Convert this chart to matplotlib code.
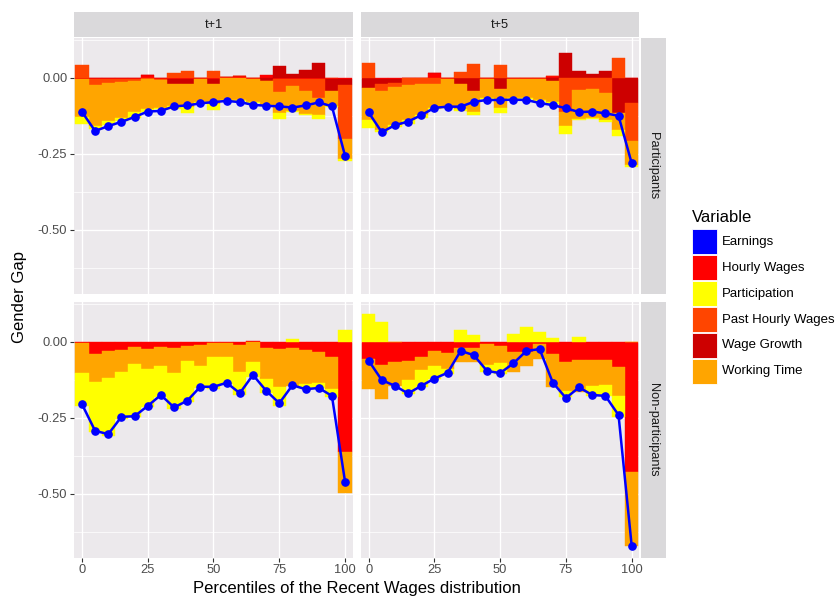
import numpy as np
import matplotlib
matplotlib.use("Agg")
import matplotlib.pyplot as plt
from matplotlib.patches import Rectangle

plt.rcParams['font.family'] = ['Liberation Sans', 'DejaVu Sans']

# ---------------------------------------------------------------------------
# Data
# ---------------------------------------------------------------------------
percentiles = [0, 5, 10, 15, 20, 25, 30, 35, 40, 45, 50,
               55, 60, 65, 70, 75, 80, 85, 90, 95, 100]

variables = ["Earnings", "Hourly Wages", "Participation",
             "Past Hourly Wages", "Wage Growth", "Working Time"]
var_colors = ["#0000FF", "#FF0000", "#FFFF00", "#FF4500", "#CD0000", "#FFA500"]

col_labels = ["t+1", "t+5"]
row_labels = ["Participants", "Non-participants"]

# participants, t+1
earn_p1 = [-0.112, -0.175, -0.159, -0.145, -0.129, -0.111, -0.109, -0.094, -0.091, -0.084, -0.080,
           -0.076, -0.080, -0.089, -0.092, -0.094, -0.098, -0.091, -0.081, -0.094, -0.257]
hw_p1 = [-0.004, -0.004, -0.004, -0.004, -0.004, 0.009, -0.003, -0.004, -0.004, -0.003, -0.004,
         0.004, 0.005, -0.003, 0.008, -0.003, -0.003, -0.003, -0.003, -0.003, -0.003]
wg_p1 = [0.0, 0.0, 0.0, 0.0, 0.0, 0.0, 0.0, -0.016, -0.017, 0.0, -0.017,
         0.0, 0.0, 0.0, -0.009, 0.039, 0.014, 0.027, 0.048, -0.040, -0.022]
phw_p1 = [0.043, -0.021, -0.013, -0.010, -0.005, -0.003, -0.003, 0.016, 0.021, 0.0, 0.023,
          0.0, 0.0, 0.0, -0.003, -0.043, -0.023, -0.040, -0.064, 0.0, -0.178]
wt_p1 = [-0.125, -0.135, -0.126, -0.118, -0.104, -0.099, -0.093, -0.072, -0.075, -0.077, -0.066,
         -0.073, -0.073, -0.078, -0.077, -0.069, -0.082, -0.075, -0.055, -0.050, -0.064]
part_p1 = [-0.023, -0.008, -0.011, -0.011, -0.019, -0.011, -0.005, -0.011, -0.019, -0.003, -0.020,
           -0.002, -0.002, -0.002, -0.002, -0.021, -0.005, -0.005, -0.014, -0.004, -0.006]

# participants, t+5
earn_p5 = [-0.114, -0.179, -0.156, -0.144, -0.123, -0.099, -0.095, -0.095, -0.079, -0.073, -0.073,
           -0.072, -0.073, -0.083, -0.090, -0.100, -0.113, -0.111, -0.117, -0.125, -0.281]
hw_p5 = [-0.002, -0.003, -0.003, 0.0, -0.002, 0.015, -0.005, -0.002, -0.002, -0.003, -0.002,
         -0.003, -0.003, -0.003, 0.006, -0.002, -0.002, -0.002, -0.002, -0.002, -0.002]
wg_p5 = [-0.031, -0.018, -0.015, 0.0, 0.0, 0.0, 0.0, -0.020, -0.043, 0.0, -0.036,
         0.0, 0.0, 0.0, -0.010, 0.083, 0.023, 0.013, 0.021, -0.114, -0.080]
phw_p5 = [0.048, -0.023, -0.013, -0.024, -0.018, -0.020, 0.0, 0.020, 0.045, 0.0, 0.041,
          0.0, 0.0, 0.0, 0.0, -0.111, -0.039, -0.034, -0.047, 0.066, -0.127]
wt_p5 = [-0.105, -0.128, -0.124, -0.115, -0.104, -0.080, -0.090, -0.080, -0.068, -0.064, -0.060,
         -0.064, -0.064, -0.069, -0.071, -0.046, -0.093, -0.095, -0.091, -0.057, -0.079]
part_p5 = [-0.026, -0.008, -0.008, -0.013, -0.008, -0.003, -0.004, -0.008, -0.011, -0.004, -0.018,
           -0.004, -0.003, -0.004, -0.004, -0.025, -0.004, -0.004, -0.004, -0.020, -0.006]

# non-participants, t+1 (no past wages / wage growth)
earn_n1 = [-0.205, -0.293, -0.304, -0.247, -0.245, -0.211, -0.175, -0.216, -0.194, -0.148, -0.148,
           -0.135, -0.169, -0.109, -0.161, -0.202, -0.143, -0.156, -0.152, -0.178, -0.461]
hw_n1 = [-0.005, -0.040, -0.030, -0.027, -0.016, -0.024, -0.016, -0.021, -0.013, -0.010, -0.004,
         -0.005, -0.010, 0.003, -0.019, -0.024, -0.022, -0.027, -0.035, -0.049, -0.362]
wt_n1 = [-0.099, -0.093, -0.088, -0.073, -0.057, -0.064, -0.063, -0.082, -0.049, -0.069, -0.047,
         -0.046, -0.089, -0.065, -0.104, -0.124, -0.123, -0.112, -0.102, -0.106, -0.137]
part_n1 = [-0.106, -0.164, -0.192, -0.154, -0.175, -0.128, -0.102, -0.118, -0.137, -0.073, -0.104,
           -0.088, -0.076, -0.050, -0.044, -0.063, 0.008, -0.013, -0.015, -0.027, 0.038]

# non-participants, t+5
earn_n5 = [-0.062, -0.126, -0.145, -0.170, -0.145, -0.121, -0.102, -0.030, -0.044, -0.096, -0.103,
           -0.071, -0.030, -0.024, -0.134, -0.185, -0.150, -0.175, -0.178, -0.241, -0.671]
hw_n5 = [-0.057, -0.076, -0.066, -0.063, -0.049, -0.030, -0.038, -0.019, -0.019, -0.008, -0.013,
         -0.035, -0.035, -0.008, -0.041, -0.065, -0.060, -0.060, -0.060, -0.084, -0.430]
wt_n5 = [-0.099, -0.113, -0.079, -0.064, -0.044, -0.049, -0.052, -0.049, -0.049, -0.068, -0.058,
         -0.063, -0.044, -0.049, -0.107, -0.096, -0.106, -0.084, -0.081, -0.096, -0.241]
part_n5 = [0.093, 0.064, 0.0, -0.046, -0.057, -0.044, -0.016, 0.038, 0.022, -0.025, -0.035,
           0.027, 0.049, 0.031, 0.012, -0.022, 0.016, -0.033, -0.039, -0.066, 0.0]

# panels: (row, col) -> earnings line and stacked components (closest to zero first)
panels = {
    (0, 0): (earn_p1, [("Hourly Wages", hw_p1), ("Wage Growth", wg_p1),
                       ("Past Hourly Wages", phw_p1), ("Working Time", wt_p1),
                       ("Participation", part_p1)]),
    (0, 1): (earn_p5, [("Hourly Wages", hw_p5), ("Wage Growth", wg_p5),
                       ("Past Hourly Wages", phw_p5), ("Working Time", wt_p5),
                       ("Participation", part_p5)]),
    (1, 0): (earn_n1, [("Hourly Wages", hw_n1), ("Working Time", wt_n1),
                       ("Participation", part_n1)]),
    (1, 1): (earn_n5, [("Hourly Wages", hw_n5), ("Working Time", wt_n5),
                       ("Participation", part_n5)]),
}

# ---------------------------------------------------------------------------
# Layout (pixels)
# ---------------------------------------------------------------------------
W, H = 836, 598
panel_bg = "#ECE9EC"
strip_bg = "#DAD9DB"
colors = dict(zip(variables, var_colors))

col_x = [(74.3, 352.7), (361.0, 639.3)]
row_y = [(38.0, 293.5), (302.0, 557.5)]

fig = plt.figure(figsize=(W / 100, H / 100), dpi=100)


def px_axes(x0, y0, x1, y1):
    return fig.add_axes([x0 / W, 1 - y1 / H, (x1 - x0) / W, (y1 - y0) / H])


x = np.array(percentiles)
for (r, c), (earn, comps) in panels.items():
    ax = px_axes(col_x[c][0], row_y[r][0], col_x[c][1], row_y[r][1])
    ax.set_facecolor(panel_bg)
    pos = np.zeros(len(x))
    neg = np.zeros(len(x))
    for name, vals in comps:
        v = np.array(vals)
        base = np.where(v >= 0, pos, neg)
        ax.bar(x, v, width=5, bottom=base, color=colors[name],
               edgecolor=colors[name], linewidth=0.3, zorder=2)
        pos += np.clip(v, 0, None)
        neg += np.clip(v, None, 0)
    ax.plot(x, earn, color=colors["Earnings"], lw=1.8, marker="o", ms=5.2, zorder=3)

    ax.set_xlim(-2.9, 102.9)
    ax.set_ylim(-0.710, 0.131)
    ax.set_xticks([0, 25, 50, 75, 100])
    ax.set_yticks([-0.5, -0.25, 0.0])
    ax.set_yticks([-0.625, -0.375, -0.125, 0.125], minor=True)
    ax.set_axisbelow(True)
    ax.grid(which="major", color="white", lw=0.95)
    ax.grid(which="minor", axis="y", color="white", lw=0.5)
    for s in ax.spines.values():
        s.set_visible(False)
    ax.tick_params(which="minor", length=0)
    ax.tick_params(which="major", length=3, width=0.8, color="#333333",
                   labelcolor="#4D4D4D", labelsize=9.3, pad=2)
    if r == 0:
        ax.tick_params(axis="x", length=0, labelbottom=False)
    if c == 1:
        ax.tick_params(axis="y", length=0, labelleft=False)
    else:
        ax.set_yticklabels(["-0.50", "-0.25", "0.00"])

    # strips
    if r == 0:
        sax = px_axes(col_x[c][0], 12.0, col_x[c][1], 37.2)
        sax.set_facecolor(strip_bg)
        sax.set_xticks([]); sax.set_yticks([])
        for s in sax.spines.values():
            s.set_visible(False)
        sax.text(0.5, 0.5, col_labels[c], ha="center", va="center",
                 fontsize=9.3, color="#1A1A1A", transform=sax.transAxes)
    if c == 1:
        sax = px_axes(640.7, row_y[r][0], 666.0, row_y[r][1])
        sax.set_facecolor(strip_bg)
        sax.set_xticks([]); sax.set_yticks([])
        for s in sax.spines.values():
            s.set_visible(False)
        sax.text(0.5, 0.5, row_labels[r], ha="center", va="center", rotation=-90,
                 fontsize=9.3, color="#1A1A1A", transform=sax.transAxes)

# axis titles
fig.text(357 / W, 1 - 589 / H, "Percentiles of the Recent Wages distribution",
         ha="center", va="center", fontsize=12, color="black")
fig.text(20 / W, 1 - 297 / H, "Gender Gap", ha="center", va="center",
         rotation=90, fontsize=12, color="black")

# legend
fig.text(692 / W, 1 - 217 / H, "Variable", ha="left", va="center",
         fontsize=12, color="black")
for i, name in enumerate(variables):
    top = 229.3 + 25.9 * i
    fig.add_artist(Rectangle((692.3 / W, 1 - (top + 25.0) / H), 25.0 / W, 25.0 / H,
                             transform=fig.transFigure, facecolor=colors[name],
                             edgecolor="white", linewidth=0.6))
    fig.text(722 / W, 1 - (top + 12.5) / H, name, ha="left", va="center",
             fontsize=9.5, color="black")

fig.savefig("out.png", dpi=100)
